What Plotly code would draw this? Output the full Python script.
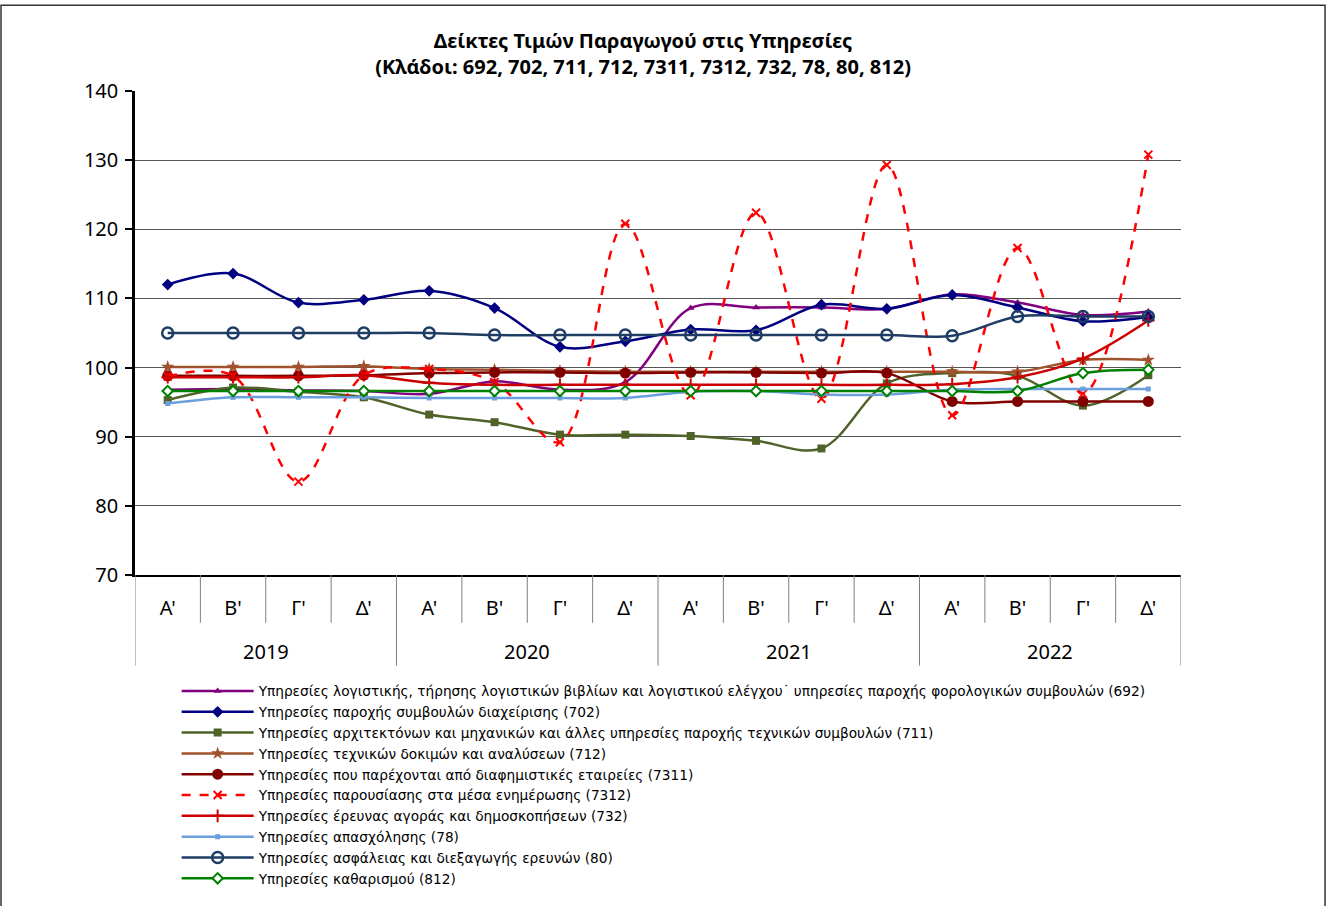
import plotly.graph_objects as go

years = ["2019"] * 4 + ["2020"] * 4 + ["2021"] * 4 + ["2022"] * 4
quarters = ["Α'", "Β'", "Γ'", "Δ'"] * 4

names = [
    "Υπηρεσίες λογιστικής, τήρησης λογιστικών βιβλίων και λογιστικού ελέγχου˙ υπηρεσίες παροχής φορολογικών συμβουλών (692)",
    "Υπηρεσίες παροχής συμβουλών διαχείρισης (702)",
    "Υπηρεσίες αρχιτεκτόνων και μηχανικών και άλλες υπηρεσίες παροχής τεχνικών συμβουλών (711)",
    "Υπηρεσίες τεχνικών δοκιμών και αναλύσεων (712)",
    "Υπηρεσίες που παρέχονται από διαφημιστικές εταιρείες (7311)",
    "Υπηρεσίες παρουσίασης στα μέσα ενημέρωσης (7312)",
    "Υπηρεσίες έρευνας αγοράς και δημοσκοπήσεων (732)",
    "Υπηρεσίες απασχόλησης (78)",
    "Υπηρεσίες ασφάλειας και διεξαγωγής ερευνών (80)",
    "Υπηρεσίες καθαρισμού (812)",
]

s692 = [96.8, 96.9, 96.7, 96.6, 96.2, 98.0, 96.8, 97.9, 108.6, 108.7, 108.7, 108.5, 110.6, 109.4, 107.6, 108.1]
s702 = [112.0, 113.6, 109.4, 109.8, 111.1, 108.6, 103.0, 103.8, 105.5, 105.4, 109.1, 108.5, 110.5, 108.7, 106.7, 107.3]
s711 = [95.3, 97.1, 96.5, 95.7, 93.2, 92.1, 90.3, 90.3, 90.1, 89.4, 88.3, 97.7, 99.2, 98.8, 94.5, 98.9]
s712 = [100.1, 100.1, 100.1, 100.2, 99.8, 99.7, 99.5, 99.4, 99.4, 99.4, 99.4, 99.4, 99.4, 99.4, 101.1, 101.1]
s7311 = [98.8, 98.8, 98.8, 98.9, 99.2, 99.3, 99.3, 99.2, 99.3, 99.3, 99.2, 99.2, 95.1, 95.1, 95.1, 95.1]
s7312 = [98.7, 98.8, 83.5, 98.9, 99.8, 97.9, 89.2, 120.8, 96.0, 122.4, 95.5, 129.3, 93.1, 117.3, 96.2, 130.8]
s732 = [98.6, 98.6, 98.6, 98.9, 97.8, 97.5, 97.5, 97.5, 97.5, 97.5, 97.5, 97.5, 97.6, 98.6, 101.3, 106.8]
s78 = [94.8, 95.7, 95.7, 95.7, 95.6, 95.6, 95.6, 95.6, 96.5, 96.6, 96.1, 96.1, 96.8, 96.9, 96.9, 96.9]
s80 = [105.0, 105.0, 105.0, 105.0, 105.0, 104.7, 104.7, 104.7, 104.7, 104.7, 104.7, 104.7, 104.6, 107.4, 107.4, 107.4]
s812 = [96.6, 96.6, 96.6, 96.6, 96.6, 96.6, 96.6, 96.6, 96.6, 96.6, 96.6, 96.6, 96.6, 96.6, 99.2, 99.7]

series = [s692, s702, s711, s712, s7311, s7312, s732, s78, s80, s812]

styles = [
    dict(color="#800080", dash="solid", symbol="triangle-up", size=7, fill="#800080", lw=0),
    dict(color="#000080", dash="solid", symbol="diamond", size=9, fill="#000080", lw=0),
    dict(color="#4F6228", dash="solid", symbol="square", size=8, fill="#4F6228", lw=0),
    dict(color="#A0522D", dash="solid", symbol="star", size=10, fill="#A0522D", lw=0),
    dict(color="#800000", dash="solid", symbol="circle", size=11, fill="#800000", lw=0),
    dict(color="#FF0000", dash="dash", symbol="x-thin", size=8, fill="#FF0000", lw=2),
    dict(color="#CC0000", dash="solid", symbol="cross-thin", size=9, fill="#CC0000", lw=2),
    dict(color="#6A9FDC", dash="solid", symbol="square", size=5, fill="#6A9FDC", lw=0),
    dict(color="#1F3C64", dash="solid", symbol="circle-open", size=11, fill="#1F3C64", lw=2.5),
    dict(color="#008000", dash="solid", symbol="diamond", size=8, fill="#FFFFFF", lw=2),
]

idx = list(range(len(quarters)))

fig = go.Figure()
for name, vals, st in zip(names, series, styles):
    fig.add_trace(go.Scatter(
        x=idx, y=vals, name=name, mode="lines+markers",
        line=dict(color=st["color"], width=2.5, dash=st["dash"], shape="spline", smoothing=1.0),
        marker=dict(symbol=st["symbol"], size=st["size"], color=st["fill"],
                    line=dict(color=st["color"], width=st["lw"])),
    ))

PLOT_H = 486.0
fig.update_layout(
    width=1327, height=906,
    margin=dict(l=135, r=146, t=91, b=329),
    paper_bgcolor="white", plot_bgcolor="white",
    font=dict(family="Noto Sans", color="black"),
    title=dict(
        text="<b>Δείκτες Τιμών Παραγωγού στις Υπηρεσίες<br>(Κλάδοι: 692, 702, 711, 712, 7311, 7312, 732, 78, 80, 812)</b>",
        x=0.4846, xanchor="center", y=0.9465, yanchor="middle",
        font=dict(family="Noto Sans", size=20, color="black"),
    ),
    showlegend=True,
    legend=dict(
        x=0.0398, y=-0.2078, xanchor="left", yanchor="top",
        orientation="v", itemwidth=72, tracegroupgap=0,
        font=dict(family="DejaVu Sans", size=13.7, color="black"),
        bgcolor="rgba(0,0,0,0)",
    ),
    hovermode=False,
)

fig.update_yaxes(
    range=[70, 140], dtick=10, showgrid=True, gridcolor="#555555", gridwidth=1,
    showline=True, linecolor="black", linewidth=2.5, ticks="outside", ticklen=7,
    tickcolor="black", tickwidth=1.5, ticklabelstandoff=3,
    tickfont=dict(family="Noto Sans", size=20, color="black"),
    zeroline=False,
)
fig.update_xaxes(
    range=[idx[0] - 0.5, idx[-1] + 0.5], tickvals=idx, ticktext=quarters,
    showgrid=False, zeroline=False, showline=True, linecolor="black", linewidth=1.5,
    ticks="", ticklabelstandoff=14,
    tickfont=dict(family="Noto Sans", size=20, color="black"),
)

# year labels and category separators below the axis
QUARTER_SEP = -48 / PLOT_H
YEAR_SEP = -91 / PLOT_H
YEAR_LABEL_Y = -77 / PLOT_H
for i in range(len(idx) + 1):
    is_year_edge = i == 0 or i == len(idx) or years[i] != years[i - 1]
    fig.add_shape(type="line", xref="x", yref="paper",
                  x0=i - 0.5, x1=i - 0.5, y0=0, y1=YEAR_SEP if is_year_edge else QUARTER_SEP,
                  line=dict(color="#7f7f7f", width=1))
for yr in dict.fromkeys(years):
    pos = [i for i, y in zip(idx, years) if y == yr]
    fig.add_annotation(x=sum(pos) / len(pos), y=YEAR_LABEL_Y, xref="x", yref="paper",
                       text=yr, showarrow=False, yanchor="middle",
                       font=dict(family="Noto Sans", size=20, color="black"))

# outer chart frame
fig.add_shape(type="rect", xref="paper", yref="paper",
              x0=-0.1281, x1=1.1377, y0=-0.70, y1=1.177,
              line=dict(color="#333333", width=1.5), fillcolor="rgba(0,0,0,0)", layer="below")

fig.write_html("out.html", config={"displayModeBar": False},
               post_script="document.body.style.margin='0';")
